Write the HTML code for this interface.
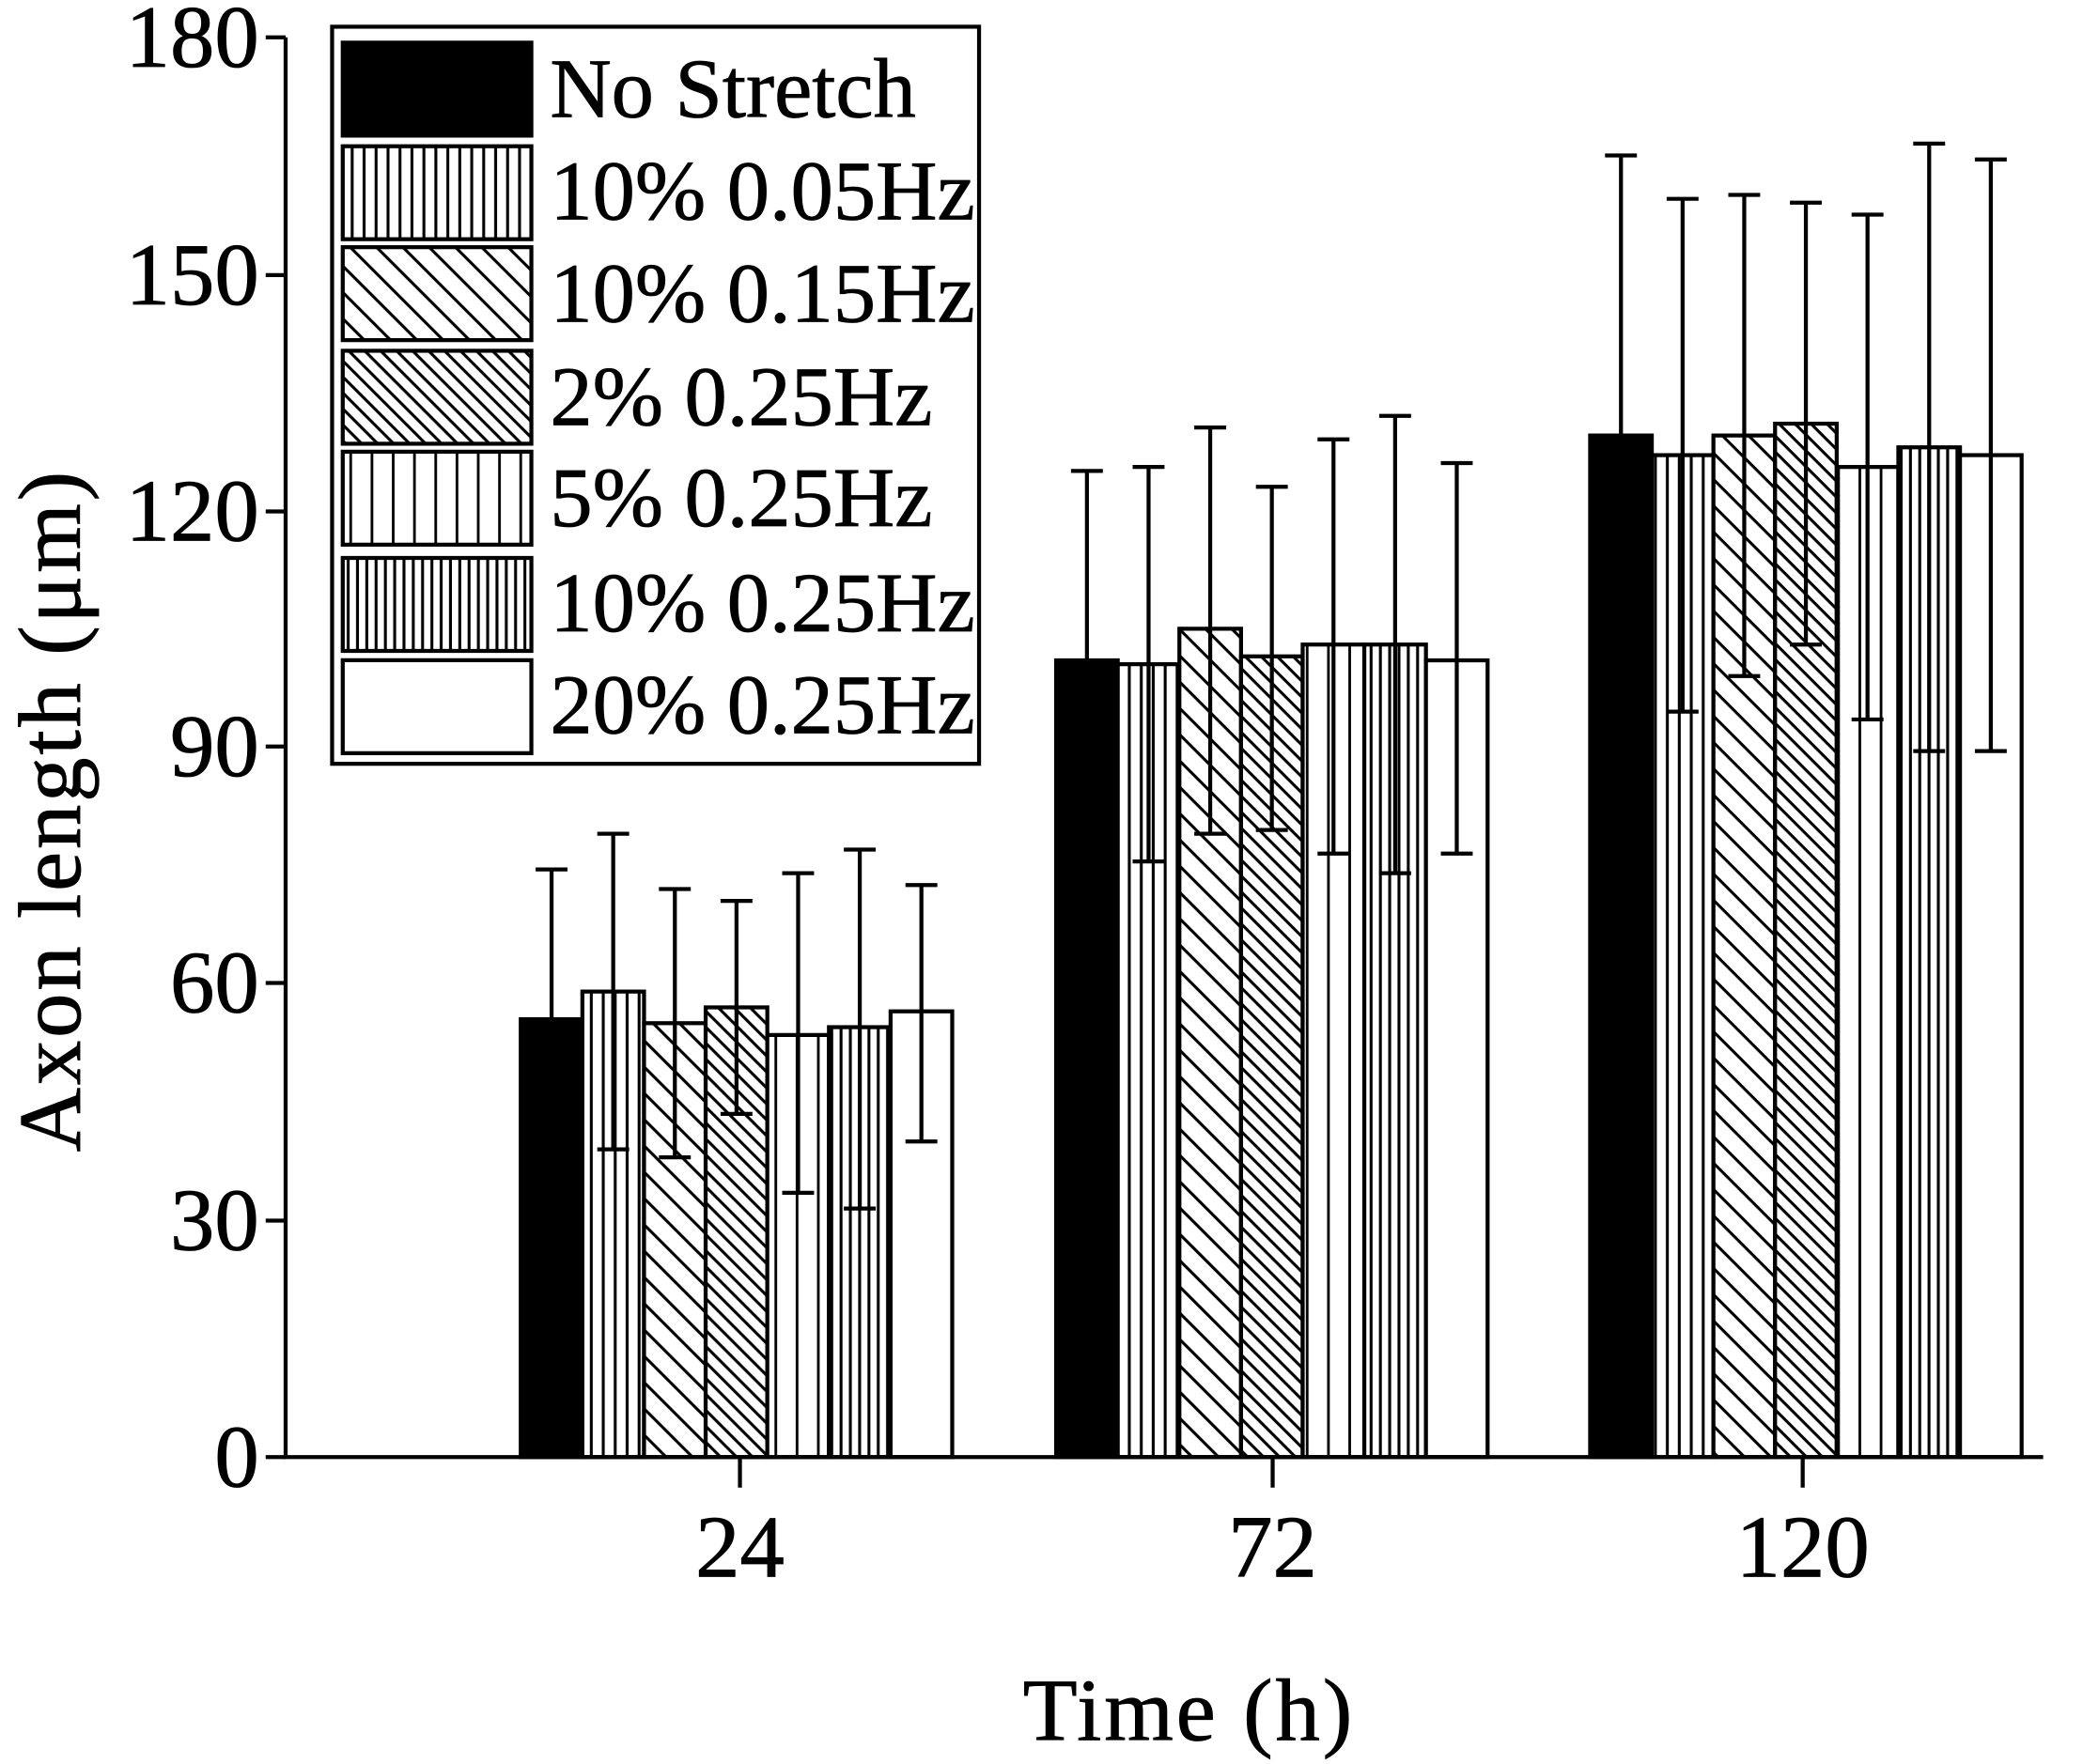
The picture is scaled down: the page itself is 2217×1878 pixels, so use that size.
<!DOCTYPE html>
<html><head><style>html,body{margin:0;padding:0;background:#fff}svg{display:block}</style></head>
<body>
<svg width="2217" height="1878" viewBox="0 0 1568 1328" xmlns="http://www.w3.org/2000/svg" font-family="Liberation Serif, serif">
<defs>
<pattern id="p2" width="9" height="10" patternUnits="userSpaceOnUse"><rect width="9" height="10" fill="#fff"/><rect x="3" width="2.2" height="10" fill="#000"/></pattern>
<pattern id="p3" width="14" height="14" patternUnits="userSpaceOnUse" patternTransform="rotate(45)"><rect width="14" height="14" fill="#fff"/><rect y="0" width="14" height="2.2" fill="#000"/></pattern>
<pattern id="p4" width="8.5" height="8.5" patternUnits="userSpaceOnUse" patternTransform="rotate(45)"><rect width="9" height="9" fill="#fff"/><rect y="0" width="9" height="2.2" fill="#000"/></pattern>
<pattern id="p5" width="16" height="10" patternUnits="userSpaceOnUse"><rect width="16" height="10" fill="#fff"/><rect x="7" width="2" height="10" fill="#000"/></pattern>
<pattern id="p6" width="7" height="10" patternUnits="userSpaceOnUse"><rect width="7" height="10" fill="#fff"/><rect x="2" width="2.2" height="10" fill="#000"/></pattern>
</defs>
<g stroke="#000" stroke-width="3">
<rect x="392" y="767.3" width="46.4" height="329.7" fill="#000"/>
<rect x="438.4" y="746.5" width="46.4" height="350.5" fill="url(#p2)"/>
<rect x="484.8" y="770.3" width="46.4" height="326.7" fill="url(#p3)"/>
<rect x="531.2" y="758.4" width="46.4" height="338.6" fill="url(#p4)"/>
<rect x="577.6" y="779.2" width="46.4" height="317.8" fill="url(#p5)"/>
<rect x="624" y="773.3" width="46.4" height="323.7" fill="url(#p6)"/>
<rect x="670.4" y="761.4" width="46.4" height="335.6" fill="#fff"/>

<rect x="795" y="497.1" width="46.4" height="599.9" fill="#000"/>
<rect x="841.4" y="500" width="46.4" height="597" fill="url(#p2)"/>
<rect x="887.8" y="473.3" width="46.4" height="623.7" fill="url(#p3)"/>
<rect x="934.2" y="494.1" width="46.4" height="602.9" fill="url(#p4)"/>
<rect x="980.6" y="485.2" width="46.4" height="611.8" fill="url(#p5)"/>
<rect x="1027" y="485.2" width="46.4" height="611.8" fill="url(#p6)"/>
<rect x="1073.4" y="497.1" width="46.4" height="599.9" fill="#fff"/>

<rect x="1197" y="327.8" width="46.4" height="769.2" fill="#000"/>
<rect x="1243.4" y="342.6" width="46.4" height="754.4" fill="url(#p2)"/>
<rect x="1289.8" y="327.8" width="46.4" height="769.2" fill="url(#p3)"/>
<rect x="1336.2" y="318.9" width="46.4" height="778.1" fill="url(#p4)"/>
<rect x="1382.6" y="351.5" width="46.4" height="745.5" fill="url(#p5)"/>
<rect x="1429" y="336.7" width="46.4" height="760.3" fill="url(#p6)"/>
<rect x="1475.4" y="342.6" width="46.4" height="754.4" fill="#fff"/>
</g>
<path fill="none" stroke="#000" stroke-width="3" d="
M415.2 654.5V767.3M403.2 654.5h24
M461.6 627.7V865.3M449.6 627.7h24M449.6 865.3h24
M508 669.3V871.3M496 669.3h24M496 871.3h24
M554.4 678.2V838.6M542.4 678.2h24M542.4 838.6h24
M600.8 657.4V898M588.8 657.4h24M588.8 898h24
M647.2 639.6V909.9M635.2 639.6h24M635.2 909.9h24
M693.6 666.3V859.4M681.6 666.3h24M681.6 859.4h24
M818.2 354.5V497.1M806.2 354.5h24
M864.6 351.5V648.5M852.6 351.5h24M852.6 648.5h24
M911 321.8V627.7M899 321.8h24M899 627.7h24
M957.4 366.4V624.8M945.4 366.4h24M945.4 624.8h24
M1003.8 330.7V642.6M991.8 330.7h24M991.8 642.6h24
M1050.2 313V657.4M1038.2 313h24M1038.2 657.4h24
M1096.6 348.6V642.6M1084.6 348.6h24M1084.6 642.6h24
M1220.2 116.9V327.8M1208.2 116.9h24
M1266.6 149.6V535.7M1254.6 149.6h24M1254.6 535.7h24
M1313 146.6V508.9M1301 146.6h24M1301 508.9h24
M1359.4 152.5V485.2M1347.4 152.5h24M1347.4 485.2h24
M1405.8 161.5V541.6M1393.8 161.5h24M1393.8 541.6h24
M1452.2 108V565.4M1440.2 108h24M1440.2 565.4h24
M1498.6 119.9V565.4M1486.6 119.9h24M1486.6 565.4h24"/>
<g stroke="#000" stroke-width="3" fill="none">
<line x1="215" y1="28" x2="215" y2="1098"/>
<line x1="213" y1="1097" x2="1538" y2="1097"/>
<line x1="200" y1="28" x2="215" y2="28"/><line x1="200" y1="207" x2="215" y2="207"/><line x1="200" y1="385" x2="215" y2="385"/><line x1="200" y1="562" x2="215" y2="562"/><line x1="200" y1="740" x2="215" y2="740"/><line x1="200" y1="919" x2="215" y2="919"/><line x1="200" y1="1097" x2="215" y2="1097"/>
<line x1="557" y1="1097" x2="557" y2="1120"/><line x1="958" y1="1097" x2="958" y2="1120"/><line x1="1357" y1="1097" x2="1357" y2="1120"/>
</g>
<g font-size="67" text-anchor="end" fill="#000" stroke="#000" stroke-width="0.6">
<text x="195" y="50">180</text><text x="195" y="229">150</text><text x="195" y="407">120</text><text x="195" y="584">90</text><text x="195" y="762">60</text><text x="195" y="941">30</text><text x="195" y="1119">0</text>
</g>
<g font-size="67" text-anchor="middle" fill="#000" stroke="#000" stroke-width="0.6">
<text x="557" y="1187">24</text><text x="958" y="1187">72</text><text x="1357" y="1187">120</text>
<text x="895" y="1310" letter-spacing="2">Time (h)</text>
<text transform="translate(60,610) rotate(-90)" letter-spacing="2">Axon length (μm)</text>
</g>
<rect x="250" y="20" width="487" height="555" fill="#fff" stroke="#000" stroke-width="3"/>
<g stroke="#000" stroke-width="3">
<rect x="258" y="32" width="142" height="70" fill="#000"/>
<rect x="258" y="110" width="142" height="70" fill="url(#p2)"/>
<rect x="258" y="186" width="142" height="70" fill="url(#p3)"/>
<rect x="258" y="264" width="142" height="70" fill="url(#p4)"/>
<rect x="258" y="340" width="142" height="70" fill="url(#p5)"/>
<rect x="258" y="420" width="142" height="70" fill="url(#p6)"/>
<rect x="258" y="497" width="142" height="70" fill="#fff"/>
</g>
<g font-size="64" fill="#000" stroke="#000" stroke-width="0.6">
<text x="414" y="88">No Stretch</text>
<text x="414" y="165">10% 0.05Hz</text>
<text x="414" y="242">10% 0.15Hz</text>
<text x="414" y="320">2% 0.25Hz</text>
<text x="414" y="396">5% 0.25Hz</text>
<text x="414" y="475">10% 0.25Hz</text>
<text x="414" y="552">20% 0.25Hz</text>
</g>
</svg>
</body></html>
